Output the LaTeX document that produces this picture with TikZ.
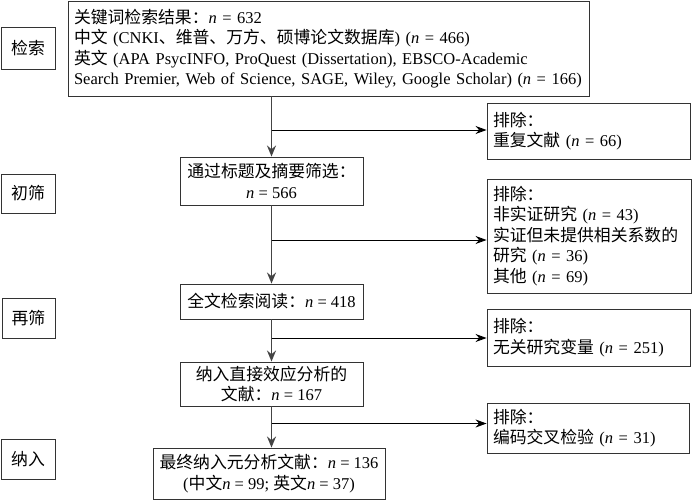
\documentclass[tikz,border=0pt]{standalone}
\usepackage{fontspec}
\setmainfont{Liberation Serif}
\newfontfamily\zhfont[Scale=1.02]{Noto Sans CJK SC}
\newcommand{\zh}[1]{{\zhfont #1}}
\newcommand{\nn}{\textit{n}}
\usetikzlibrary{arrows.meta,calc}
\definecolor{boxline}{HTML}{333333}
\definecolor{vline}{HTML}{444444}
\begin{document}
\begin{tikzpicture}[x=1pt,y=-1pt,
  every node/.style={font=\fontsize{16.5}{20.5}\selectfont},
  box/.style={draw=boxline,line width=0.9pt,rectangle,inner sep=0pt},
  leftbox/.style={box,align=left,inner xsep=6pt},
  centerbox/.style={box,align=center},
  vflow/.style={draw=vline,line width=1.6pt,-{Stealth[length=11pt,width=9pt]}},
  hflow/.style={draw=black,line width=0.9pt,-{Stealth[length=11pt,width=8pt]}}]
\useasboundingbox (0,0) rectangle (700,500);
% stage labels
\node[centerbox,minimum width=54pt,minimum height=42pt] (l1) at (28,48) {\zh{检索}};
\node[centerbox,minimum width=54pt,minimum height=39pt] (l2) at (28,193.5) {\zh{初筛}};
\node[centerbox,minimum width=53pt,minimum height=40pt] (l3) at (28.5,318) {\zh{再筛}};
\node[centerbox,minimum width=54pt,minimum height=40pt] (l4) at (28,459) {\zh{纳入}};
% main flow
\node[leftbox,minimum width=521pt,minimum height=95pt,text width=509pt] (top) at (328.5,48.5)
  {\mbox{\zh{关键词检索结果：}\nn{} = 632}\\
   \mbox{\zh{中文} (CNKI\zh{、维普、万方、硕博论文数据库}) (\nn{} = 466)}\\
   \mbox{\zh{英文} (APA PsycINFO, ProQuest (Dissertation), EBSCO-Academic}\\
   \mbox{Search Premier, Web of Science, SAGE, Wiley, Google Scholar) (\nn{} = 166)}};
\node[centerbox,minimum width=183pt,minimum height=48pt] (b1) at (271.5,181)
  {\zh{通过标题及摘要筛选：}\\\nn{} = 566};
\node[centerbox,minimum width=183pt,minimum height=35pt] (b2) at (271.5,301.5)
  {\zh{全文检索阅读：}\nn{} = 418};
\node[centerbox,minimum width=183pt,minimum height=44pt] (b3) at (271.5,384)
  {\zh{纳入直接效应分析的}\\\zh{文献：}\nn{} = 167};
\node[centerbox,minimum width=232pt,minimum height=51pt] (b4) at (269,473.5)
  {\zh{最终纳入元分析文献：}\nn{} = 136\\(\zh{中文}\nn{} = 99; \zh{英文}\nn{} = 37)};
% exclusions
\node[leftbox,minimum width=203pt,minimum height=56pt,text width=191pt] (e1) at (588.5,131)
  {\zh{排除：}\\\zh{重复文献} (\nn{} = 66)};
\node[leftbox,minimum width=204pt,minimum height=114pt,text width=192pt] (e2) at (589,236)
  {\zh{排除：}\\\zh{非实证研究} (\nn{} = 43)\\\mbox{\zh{实证但未提供相关系数的}}\\\zh{研究} (\nn{} = 36)\\\zh{其他} (\nn{} = 69)};
\node[leftbox,minimum width=203pt,minimum height=57pt,text width=191pt] (e3) at (588.5,337.5)
  {\zh{排除：}\\\zh{无关研究变量} (\nn{} = 251)};
\node[leftbox,minimum width=202pt,minimum height=50pt,text width=190pt] (e4) at (588,428)
  {\zh{排除：}\\\zh{编码交叉检验} (\nn{} = 31)};
% junctions
\coordinate (j1) at (271.5,130);
\coordinate (j2) at (271.5,240);
\coordinate (j3) at (271.5,338);
\coordinate (j4) at (271.5,423.5);
% vertical arrows
\draw[vflow] (top.south -| b1.north) -- (b1.north);
\draw[vflow] (b1.south) -- (b2.north);
\draw[vflow] (b2.south) -- (b3.north);
\draw[vflow] (b3.south) -- (b3.south |- b4.north);
% horizontal arrows
\draw[hflow] (j1) -- (j1 -| e1.west);
\draw[hflow] (j2) -- (j2 -| e2.west);
\draw[hflow] (j3) -- (j3 -| e3.west);
\draw[hflow] (j4) -- (j4 -| e4.west);
\end{tikzpicture}
\end{document}
